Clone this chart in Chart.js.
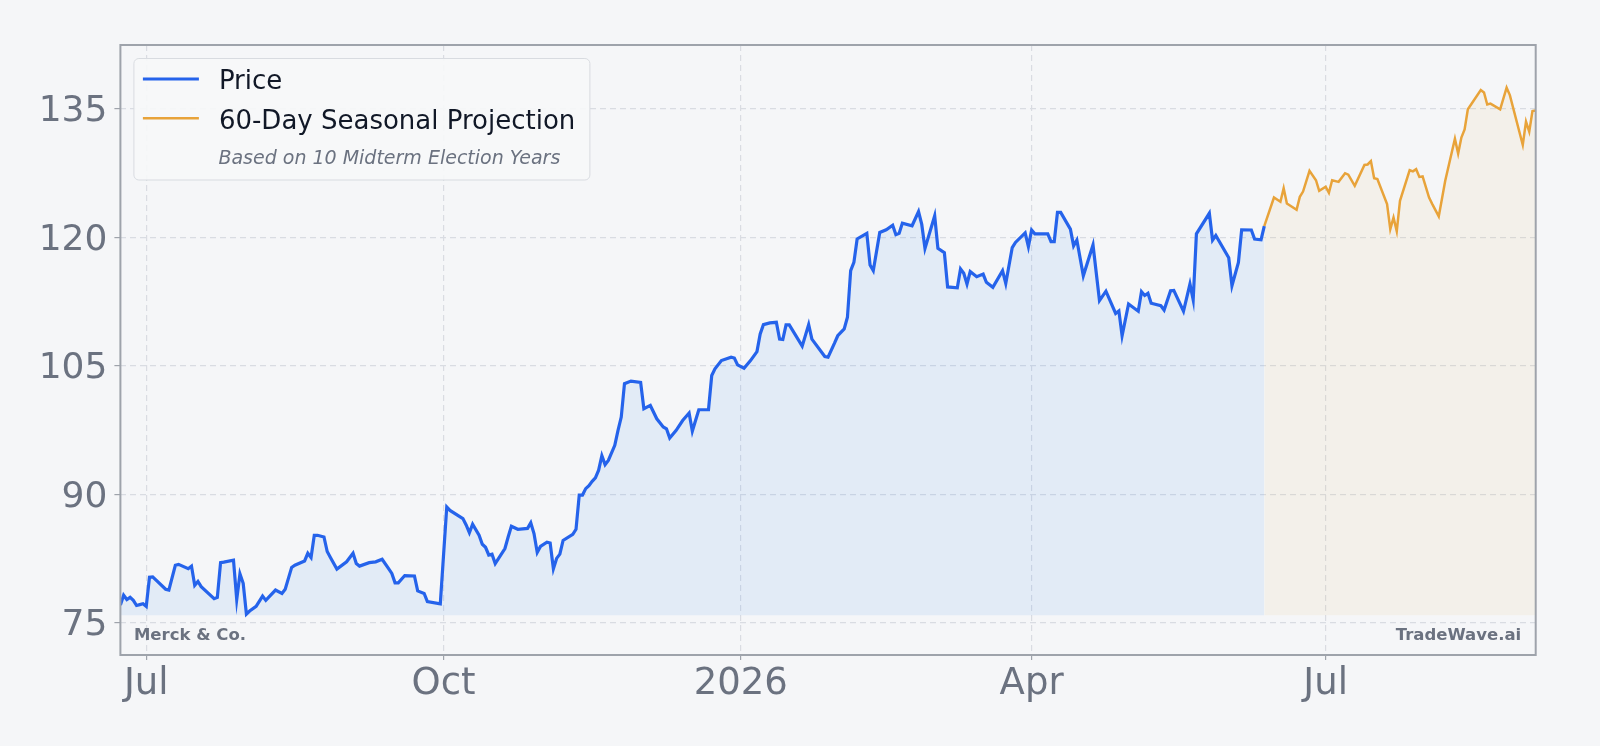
<!DOCTYPE html>
<html>
<head>
<meta charset="utf-8">
<script src="https://cdn.jsdelivr.net/npm/chart.js@4.4.1/dist/chart.umd.min.js"></script>
<style>
  html, body { margin: 0; padding: 0; background: #f5f6f8; }
  #wrap { width: 1600px; height: 746px; }
</style>
</head>
<body>
<div id="wrap"><canvas id="chart" width="1600" height="746"></canvas></div>
<script>
// Merck & Co. closing prices
const priceDates = [
  '2025-06-23','2025-06-24','2025-06-25','2025-06-26','2025-06-27','2025-06-28','2025-06-29','2025-06-30',
  '2025-07-01','2025-07-02','2025-07-03','2025-07-07','2025-07-08','2025-07-10','2025-07-11','2025-07-14',
  '2025-07-15','2025-07-16','2025-07-17','2025-07-18','2025-07-22','2025-07-23','2025-07-24','2025-07-25',
  '2025-07-28','2025-07-29','2025-07-30','2025-07-31','2025-08-01','2025-08-02','2025-08-04','2025-08-06',
  '2025-08-07','2025-08-08','2025-08-10','2025-08-12','2025-08-13','2025-08-15','2025-08-16','2025-08-19',
  '2025-08-20','2025-08-21','2025-08-22','2025-08-23','2025-08-25','2025-08-26','2025-08-27','2025-08-29',
  '2025-09-01','2025-09-03','2025-09-04','2025-09-05','2025-09-08','2025-09-10','2025-09-12','2025-09-14',
  '2025-09-15','2025-09-16','2025-09-17','2025-09-19','2025-09-22','2025-09-23','2025-09-25','2025-09-26',
  '2025-09-30','2025-10-02','2025-10-03','2025-10-07','2025-10-08','2025-10-09','2025-10-10','2025-10-12',
  '2025-10-13','2025-10-14','2025-10-15','2025-10-16','2025-10-17','2025-10-20','2025-10-21','2025-10-22',
  '2025-10-24','2025-10-27','2025-10-28','2025-10-29','2025-10-30','2025-10-31','2025-11-02','2025-11-03',
  '2025-11-04','2025-11-05','2025-11-06','2025-11-07','2025-11-10','2025-11-11','2025-11-12','2025-11-13',
  '2025-11-14','2025-11-15','2025-11-16','2025-11-17','2025-11-18','2025-11-19','2025-11-20','2025-11-21',
  '2025-11-23','2025-11-24','2025-11-25','2025-11-26','2025-11-28','2025-12-01','2025-12-02','2025-12-04',
  '2025-12-06','2025-12-08','2025-12-09','2025-12-10','2025-12-12','2025-12-14','2025-12-16','2025-12-17',
  '2025-12-19','2025-12-22','2025-12-23','2025-12-24','2025-12-26','2025-12-29','2025-12-30','2025-12-31',
  '2026-01-02','2026-01-04','2026-01-06','2026-01-07','2026-01-08','2026-01-10','2026-01-12','2026-01-13',
  '2026-01-14','2026-01-15','2026-01-16','2026-01-20','2026-01-22','2026-01-23','2026-01-27','2026-01-28',
  '2026-01-30','2026-01-31','2026-02-02','2026-02-03','2026-02-04','2026-02-05','2026-02-06','2026-02-09',
  '2026-02-10','2026-02-11','2026-02-13','2026-02-15','2026-02-17','2026-02-18','2026-02-19','2026-02-20',
  '2026-02-23','2026-02-25','2026-02-26','2026-02-27','2026-03-02','2026-03-03','2026-03-05','2026-03-06',
  '2026-03-09','2026-03-10','2026-03-11','2026-03-12','2026-03-13','2026-03-15','2026-03-17','2026-03-18',
  '2026-03-20','2026-03-23','2026-03-24','2026-03-26','2026-03-27','2026-03-30','2026-03-31','2026-04-01',
  '2026-04-02','2026-04-06','2026-04-07','2026-04-08','2026-04-09','2026-04-10','2026-04-13','2026-04-14',
  '2026-04-15','2026-04-17','2026-04-20','2026-04-22','2026-04-24','2026-04-27','2026-04-28','2026-04-29',
  '2026-05-01','2026-05-04','2026-05-05','2026-05-06','2026-05-07','2026-05-08','2026-05-11','2026-05-12',
  '2026-05-14','2026-05-15','2026-05-18','2026-05-20','2026-05-21','2026-05-22','2026-05-26','2026-05-27',
  '2026-05-28','2026-06-01','2026-06-02','2026-06-04','2026-06-05','2026-06-08','2026-06-09','2026-06-11',
  '2026-06-12'
];
const priceValues = [
  77.05, 78.2, 77.7, 77.95, 77.6, 77.0, 77.1, 77.2,
  76.9, 80.3, 80.35, 78.9, 78.8, 81.7, 81.8, 81.3,
  81.6, 79.35, 79.8, 79.2, 77.8, 77.95, 82.0, 82.06,
  82.3, 77.7, 80.7, 79.6, 76.0, 76.35, 76.9, 78.1,
  77.6, 78.0, 78.8, 78.4, 78.9, 81.45, 81.7, 82.2,
  83.1, 82.6, 85.2, 85.2, 85.0, 83.3, 82.6, 81.25,
  82.1, 83.1, 81.9, 81.6, 82.0, 82.1, 82.4, 81.3,
  80.75, 79.65, 79.65, 80.5, 80.45, 78.7, 78.4, 77.45,
  77.2, 88.5, 88.1, 87.15, 86.4, 85.5, 86.5, 85.2,
  84.15, 83.8, 82.9, 83.0, 81.9, 83.65, 85.0, 86.25,
  85.9, 86.0, 86.65, 85.4, 83.2, 83.9, 84.4, 84.3,
  81.3, 82.5, 83.0, 84.6, 85.3, 85.9, 89.9, 89.9,
  90.65, 91.0, 91.5, 91.9, 92.8, 94.5, 93.45, 93.95,
  95.7, 97.45, 99.0, 102.9, 103.2, 103.05, 99.97, 100.36,
  98.8, 97.84, 97.64, 96.55, 97.45, 98.6, 99.47, 97.37,
  99.86, 99.86, 103.86, 104.63, 105.6, 106.0, 105.9, 105.1,
  104.7, 105.6, 106.65, 108.7, 109.8, 110.0, 110.07, 108.1,
  108.05, 109.76, 109.76, 107.28, 109.8, 108.1, 106.07, 106.0,
  107.63, 108.5, 109.3, 110.66, 116.1, 117.07, 119.8, 120.45,
  116.76, 116.1, 120.56, 120.87, 121.4, 120.3, 120.45, 121.65,
  121.34, 123.0, 121.5, 118.7, 122.5, 118.7, 118.2, 114.2,
  114.1, 116.3, 115.8, 114.54, 116.0, 115.4, 115.7, 114.74,
  114.15, 116.1, 114.6, 118.8, 119.4, 120.5, 118.9, 120.84,
  120.4, 120.4, 119.5, 119.5, 122.9, 122.9, 120.95, 119.0,
  119.67, 115.5, 119.1, 112.6, 113.7, 111.1, 111.4, 108.5,
  112.2, 111.36, 113.65, 113.2, 113.45, 112.3, 112.0, 111.5,
  113.76, 113.8, 111.36, 114.54, 112.7, 120.4, 122.8, 119.67,
  120.2, 117.6, 114.35, 117.07, 120.87, 120.85, 119.8, 119.7,
  121.3
];

// 60-day seasonal projection (starts at the last close)
const projDates = [
  '2026-06-12','2026-06-15','2026-06-17','2026-06-18','2026-06-19','2026-06-22','2026-06-23','2026-06-24',
  '2026-06-26','2026-06-28','2026-06-29','2026-07-01','2026-07-02','2026-07-03','2026-07-05','2026-07-07',
  '2026-07-08','2026-07-10','2026-07-13','2026-07-14','2026-07-15','2026-07-16','2026-07-17','2026-07-20',
  '2026-07-21','2026-07-22','2026-07-23','2026-07-24','2026-07-27','2026-07-28','2026-07-29','2026-07-30',
  '2026-07-31','2026-08-02','2026-08-03','2026-08-05','2026-08-07','2026-08-10','2026-08-11','2026-08-12',
  '2026-08-13','2026-08-14','2026-08-15','2026-08-18','2026-08-19','2026-08-20','2026-08-21','2026-08-24',
  '2026-08-26','2026-08-27','2026-08-31','2026-09-01','2026-09-02','2026-09-03','2026-09-04'
];
const projValues = [
  121.3, 124.64, 124.14, 125.73, 123.95, 123.2, 124.72, 125.34,
  127.75, 126.66, 125.42, 125.9, 125.2, 126.66, 126.47, 127.48,
  127.3, 126.0, 128.45, 128.5, 128.9, 126.9, 126.8, 123.87,
  120.95, 122.3, 120.7, 124.25, 127.83, 127.7, 127.95, 127.05,
  127.1, 124.64, 123.87, 122.43, 126.59, 131.5, 129.77, 131.64,
  132.6, 134.94, 135.5, 137.2, 136.9, 135.5, 135.6, 134.94,
  137.46, 136.6, 130.78, 133.5, 132.33, 134.74, 134.8
];

const xTickDates = ['2025-07-01', '2025-10-01', '2026-01-01', '2026-04-01', '2026-07-01'];
const xTickLabels = ['Jul', 'Oct', '2026', 'Apr', 'Jul'];
const yTickValues = [75, 90, 105, 120, 135];

const DAY = 86400000;
const ORIGIN = Date.parse('2025-07-01');
const toDay = s => Math.round((Date.parse(s) - ORIGIN) / DAY);
const xTickDays = xTickDates.map(toDay);

const FONT = "'DejaVu Sans', sans-serif";
const BLUE = '#2563eb';
const ORANGE = '#e8a33a';
const MUTED = '#6b7280';
const FILL_BASE = 75.85;

const frame = {
  id: 'frame',
  afterDatasetsDraw(chart) {
    const { ctx, chartArea: a } = chart;
    ctx.save();

    // legend box
    const bx = a.left + 13.5, by = a.top + 13.5, bw = 456, bh = 121.5;
    ctx.beginPath();
    ctx.roundRect(bx, by, bw, bh, 5);
    ctx.fillStyle = 'rgba(246,247,249,0.92)';
    ctx.fill();
    ctx.strokeStyle = '#d8dbe0';
    ctx.lineWidth = 1;
    ctx.stroke();

    ctx.lineCap = 'butt';
    ctx.strokeStyle = BLUE;
    ctx.lineWidth = 3;
    ctx.beginPath(); ctx.moveTo(bx + 9, by + 20.5); ctx.lineTo(bx + 65, by + 20.5); ctx.stroke();
    ctx.strokeStyle = ORANGE;
    ctx.lineWidth = 2.5;
    ctx.beginPath(); ctx.moveTo(bx + 9, by + 59.7); ctx.lineTo(bx + 65, by + 59.7); ctx.stroke();

    ctx.textAlign = 'left';
    ctx.textBaseline = 'alphabetic';
    ctx.fillStyle = '#111827';
    ctx.font = `26px ${FONT}`;
    ctx.fillText('Price', bx + 85, by + 30.7);
    ctx.fillText('60-Day Seasonal Projection', bx + 85, by + 70.4);
    ctx.fillStyle = MUTED;
    ctx.font = `italic 19px ${FONT}`;
    ctx.fillText('Based on 10 Midterm Election Years', bx + 84.5, by + 105.4);

    // watermarks
    ctx.font = `bold 16.5px ${FONT}`;
    ctx.fillText('Merck & Co.', a.left + 13.5, a.bottom - 15);
    ctx.textAlign = 'right';
    ctx.fillText('TradeWave.ai', a.right - 14.5, a.bottom - 15);
    ctx.restore();
  },
  afterDraw(chart) {
    const { ctx, chartArea: a } = chart;
    ctx.save();
    ctx.strokeStyle = '#9ea3ab';
    ctx.lineWidth = 2;
    ctx.strokeRect(a.left, a.top, a.right - a.left, a.bottom - a.top);
    ctx.restore();
  }
};

const gridStyle = {
  color: '#d9dce2',
  lineWidth: 1.2,
  tickColor: '#9ea3ab',
  tickWidth: 1.2,
  tickBorderDash: []
};

new Chart(document.getElementById('chart'), {
  type: 'line',
  data: {
    datasets: [
      {
        label: 'Price',
        data: priceDates.map((d, i) => ({ x: toDay(d), y: priceValues[i] })),
        borderColor: BLUE,
        borderWidth: 3.2,
        backgroundColor: 'rgba(56,140,235,0.1)',
        fill: { value: FILL_BASE },
        pointRadius: 0,
        tension: 0,
        order: 1
      },
      {
        label: '60-Day Seasonal Projection',
        data: projDates.map((d, i) => ({ x: toDay(d), y: projValues[i] })),
        borderColor: ORANGE,
        borderWidth: 2.5,
        backgroundColor: 'rgba(232,163,58,0.07)',
        fill: { value: FILL_BASE },
        pointRadius: 0,
        tension: 0,
        order: 2
      }
    ]
  },
  options: {
    responsive: false,
    devicePixelRatio: 1,
    animation: false,
    events: [],
    layout: { padding: { top: 45, right: 64.3, bottom: 0, left: 0 } },
    plugins: { legend: { display: false }, tooltip: { enabled: false } },
    scales: {
      x: {
        type: 'linear',
        min: toDay(priceDates[0]),
        max: toDay(projDates[projDates.length - 1]),
        afterBuildTicks: axis => { axis.ticks = xTickDays.map(v => ({ value: v })); },
        afterFit: axis => { axis.height = 91; },
        border: { display: false, dash: [6, 4] },
        grid: { ...gridStyle, tickLength: 5 },
        ticks: {
          autoSkip: false,
          maxRotation: 0,
          padding: 2,
          color: MUTED,
          font: { family: FONT, size: 37 },
          callback: v => xTickLabels[xTickDays.indexOf(v)]
        }
      },
      y: {
        min: 71.22,
        max: 142.45,
        afterBuildTicks: axis => { axis.ticks = yTickValues.map(v => ({ value: v })); },
        afterFit: axis => { axis.width = 120.4; },
        border: { display: false, dash: [6, 4] },
        grid: { ...gridStyle, tickLength: 6 },
        ticks: {
          padding: 7,
          labelOffset: 3,
          color: MUTED,
          font: { family: FONT, size: 36 },
          callback: v => String(v)
        }
      }
    }
  },
  plugins: [frame]
});
</script>
</body>
</html>
